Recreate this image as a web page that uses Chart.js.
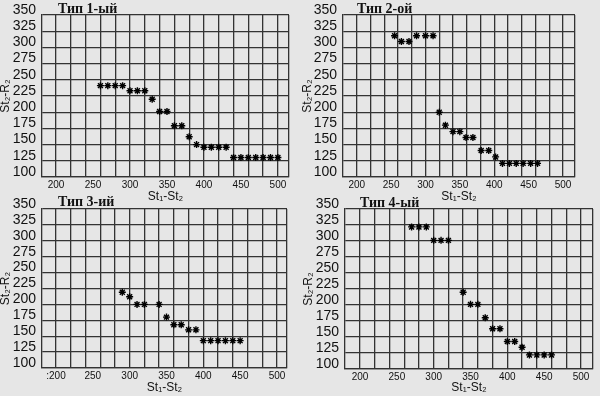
<!DOCTYPE html>
<html><head><meta charset="utf-8">
<script src="https://cdn.jsdelivr.net/npm/chart.js@4"></script>
<style>
html,body{margin:0;padding:0;background:#e6e6e6;}
#wrap{position:relative;width:600px;height:396px;overflow:hidden;background:#e6e6e6;}
canvas{position:absolute;left:0;top:0;}
.t{position:absolute;font-family:'Liberation Serif','Times New Roman',serif;font-size:14px;font-weight:bold;line-height:16px;color:#111;white-space:nowrap;}
</style></head><body>
<div id="wrap">
<canvas id="c1" width="600" height="396"></canvas>
<canvas id="c2" width="600" height="396"></canvas>
<canvas id="c3" width="600" height="396"></canvas>
<canvas id="c4" width="600" height="396"></canvas>
<div class="t" style="left:58px;top:1px">Тип 1-ый</div>
<div class="t" style="left:357px;top:1px">Тип 2-ой</div>
<div class="t" style="left:58px;top:194px">Тип 3-ий</div>
<div class="t" style="left:360px;top:195px">Тип 4-ый</div>
</div>
<script>
// ---- data ----
const xGridValues = [200,220,240,260,280,300,320,340,360,380,400,420,440,460,480,500];
const xTickValues = [200,250,300,350,400,450,500];
const xTickLabels = ['200','250','300','350','400','450','500'];
const xTickLabels3 = [':200','250','300','350','400','450','500'];
const yTickLabels = ['100','125','150','175','200','225','250','275','300','325','350'];
const xTitle = 'St₁-St₂';
const yTitle = 'St₂-R₂';

const type1X = [260,270,280,290,300,310,320,330,340,350,360,370,380,390,400,410,420,430,440,450,460,470,480,490,500];
const type1Y = [241,241,241,241,233,233,233,220,201,201,179,179,162,150,146,146,146,146,130,130,130,130,130,130,130];

const type2X = [255,265,276,287,300,311,320,329,340,350,359,369,381,392,402,412,422,432,442,453,463];
const type2Y = [318,309,309,318,318,318,200,180,170,170,161,161,141,141,131,121,121,121,121,121,121];

const type3X = [290,300,310,320,340,350,360,370,380,390,400,410,420,430,440,450];
const type3Y = [219,212,200,200,200,180,168,168,160,160,143,143,143,143,143,143];

const type4X = [270,280,290,300,310,320,340,350,360,370,380,390,400,410,420,430,440,450,460];
const type4Y = [322,322,322,301,301,301,220,201,201,180,163,163,143,143,134,122,122,122,122];

// ---- drawing ----
const LINE = '#333';
const TXT = '#111';
const SANS = "'Liberation Sans Narrow','Liberation Sans',Arial,sans-serif";

function makePanel(id, xs, ys, xLabels, g) {
  const pts = xs.map((x, i) => ({x: x, y: ys[i]}));
  const gridSet = new Set(xGridValues);
  new Chart(document.getElementById(id), {
    type: 'scatter',
    data: {datasets: [{
      data: pts,
      pointStyle: 'star',
      radius: 3.5,
      borderWidth: 1.4,
      borderColor: '#000',
      backgroundColor: '#000'
    }]},
    options: {
      responsive: false,
      animation: false,
      events: [],
      layout: {padding: {left: g.L, right: 600 - g.R, top: g.T, bottom: 396 - g.B - g.xH}},
      plugins: {legend: {display: false}, tooltip: {enabled: false}},
      scales: {
        x: {
          type: 'linear', min: g.xMin, max: g.xMax,
          afterBuildTicks: (axis) => {
            const vals = Array.from(new Set([...xGridValues, ...xTickValues, g.xMax])).sort((a, b) => a - b);
            axis.ticks = vals.map(v => ({value: v}));
          },
          afterFit: (s) => { s.height = g.xH; },
          grid: {
            drawTicks: false,
            lineWidth: 1.3,
            color: (ctx) => (ctx.tick && (gridSet.has(ctx.tick.value) || ctx.tick.value === g.xMax)) ? LINE : 'rgba(0,0,0,0)'
          },
          border: {display: true, color: LINE, width: 1.3},
          ticks: {
            autoSkip: false, maxRotation: 0, padding: 2, color: TXT,
            font: {family: SANS, size: 10},
            callback: (v) => { const i = xTickValues.indexOf(v); return i >= 0 ? xLabels[i] : ''; }
          },
          title: {display: true, text: xTitle, color: TXT, padding: 0, font: {family: SANS, size: 12, lineHeight: 1}}
        },
        y: {
          type: 'linear', min: 100, max: 350,
          afterFit: (s) => { s.width = g.yW; },
          grid: {drawTicks: false, lineWidth: 1.3, color: LINE},
          border: {display: true, color: LINE, width: 1.3},
          ticks: {
            autoSkip: false, stepSize: 25, padding: 6, labelOffset: -5, color: TXT,
            font: {family: SANS, size: 14},
            callback: (v) => { const i = Math.round((v - 100) / 25); return yTickLabels[i]; }
          },
          title: {display: true, text: yTitle, color: TXT, padding: 0, font: {family: SANS, size: 12, lineHeight: 1}}
        }
      }
    }
  });
}

makePanel('c1', type1X, type1Y, xTickLabels,  {L: 0,   yW: 42, R: 289, T: 15,  B: 177, xH: 26, xMin: 181, xMax: 515});
makePanel('c2', type2X, type2Y, xTickLabels,  {L: 302, yW: 41, R: 575, T: 15,  B: 177, xH: 26, xMin: 180, xMax: 517.5});
makePanel('c3', type3X, type3Y, xTickLabels3, {L: 0,   yW: 42, R: 287, T: 209, B: 368, xH: 26, xMin: 181, xMax: 513.6});
makePanel('c4', type4X, type4Y, xTickLabels,  {L: 303, yW: 42, R: 593, T: 209, B: 369, xH: 25, xMin: 179.6, xMax: 516.3});
</script>
</body></html>
